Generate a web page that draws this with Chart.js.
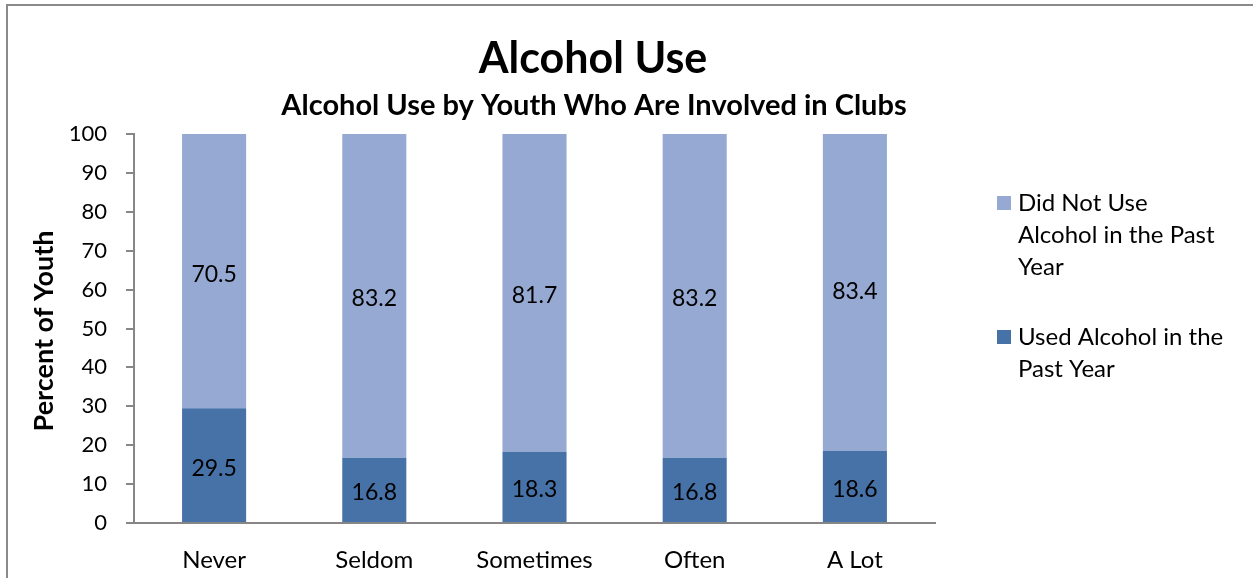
<!DOCTYPE html>
<html lang="en">
<head>
  <meta charset="UTF-8">
  <title>Alcohol Use</title>
  <script src="https://cdn.jsdelivr.net/npm/chart.js"></script>
  <style>
    html, body {
      margin: 0;
      padding: 0;
      background: #fff;
      overflow: hidden;
    }
    .wrap {
      position: relative;
      width: 1253px;
      height: 578px;
    }
    .frame {
      position: absolute;
      left: 6px;
      top: 4px;
      width: 1260px;
      height: 600px;
      border: 2px solid #8a8a8a;
      box-sizing: border-box;
      pointer-events: none;
    }
  </style>
</head>
<body>
  <div class="wrap">
    <canvas id="chart" width="1253" height="578"></canvas>
    <div class="frame"></div>
  </div>
  <script>
    const categories = ['Never', 'Seldom', 'Sometimes', 'Often', 'A Lot'];
    const usedAlcohol = [29.5, 16.8, 18.3, 16.8, 18.6];
    const didNotUse = [70.5, 83.2, 81.7, 83.2, 83.4];
    const usedName = ['Used Alcohol in the', 'Past Year'];
    const didNotName = ['Did Not Use', 'Alcohol in the Past', 'Year'];
    const yTicks = [0, 10, 20, 30, 40, 50, 60, 70, 80, 90, 100];

    const FONT = 'Lato, "Open Sans", sans-serif';
    const DARK = '#4672a8';
    const LIGHT = '#95a9d2';

    // titles, axis title, value labels and the wrapped legend
    const extras = {
      id: 'extras',
      afterDraw(chart) {
        const ctx = chart.ctx;
        ctx.save();
        ctx.fillStyle = '#000';
        ctx.textAlign = 'center';
        ctx.textBaseline = 'middle';

        ctx.font = 'bold 43px ' + FONT;
        ctx.fillText('Alcohol Use', 593, 59);
        ctx.font = 'bold 29px ' + FONT;
        ctx.fillText('Alcohol Use by Youth Who Are Involved in Clubs', 594, 106);

        ctx.save();
        ctx.translate(44, 331);
        ctx.rotate(-Math.PI / 2);
        ctx.font = 'bold 27px ' + FONT;
        ctx.fillText('Percent of Youth', 0, 0);
        ctx.restore();

        // value labels in the middle of each segment
        ctx.font = '23px ' + FONT;
        chart.data.datasets.forEach((ds, i) => {
          chart.getDatasetMeta(i).data.forEach((bar, j) => {
            const p = bar.getProps(['x', 'y', 'base'], true);
            ctx.fillText(ds.data[j].toFixed(1), p.x, (p.y + p.base) / 2 + 3);
          });
        });

        // legend, top series first
        ctx.textAlign = 'left';
        ctx.font = '24px ' + FONT;
        const items = chart.data.datasets.slice().reverse();
        let y = 203;
        items.forEach(ds => {
          ctx.fillStyle = ds.backgroundColor;
          ctx.fillRect(997, y - 7, 14, 14);
          ctx.fillStyle = '#000';
          ds.lines.forEach(line => {
            ctx.fillText(line, 1018, y);
            y += 32;
          });
          y += 38;
        });
        ctx.restore();
      }
    };

    new Chart(document.getElementById('chart'), {
      type: 'bar',
      data: {
        labels: categories,
        datasets: [
          { label: usedName.join(' '), lines: usedName, data: usedAlcohol, backgroundColor: DARK },
          { label: didNotName.join(' '), lines: didNotName, data: didNotUse, backgroundColor: LIGHT }
        ]
      },
      options: {
        responsive: false,
        animation: false,
        layout: { padding: { top: 134, right: 318, bottom: 0, left: 0 } },
        datasets: {
          bar: { barPercentage: 0.4, categoryPercentage: 1 }
        },
        scales: {
          x: {
            stacked: true,
            grid: { display: false },
            border: { display: true, color: '#868686', width: 2 },
            ticks: { color: '#000', font: { family: FONT, size: 24 }, padding: 15 },
            afterFit(scale) { scale.height = 55; }
          },
          y: {
            stacked: true,
            min: 0,
            max: 100,
            afterBuildTicks(scale) { scale.ticks = yTicks.map(v => ({ value: v })); },
            grid: { drawOnChartArea: false, drawTicks: true, tickLength: 8, color: '#868686', lineWidth: 2 },
            border: { display: true, color: '#868686', width: 2 },
            ticks: { color: '#000', font: { family: FONT, size: 22 }, padding: 19 },
            afterFit(scale) { scale.width = 134; }
          }
        },
        plugins: {
          legend: { display: false },
          tooltip: { enabled: false },
          title: { display: false }
        }
      },
      plugins: [extras]
    });
  </script>
</body>
</html>
